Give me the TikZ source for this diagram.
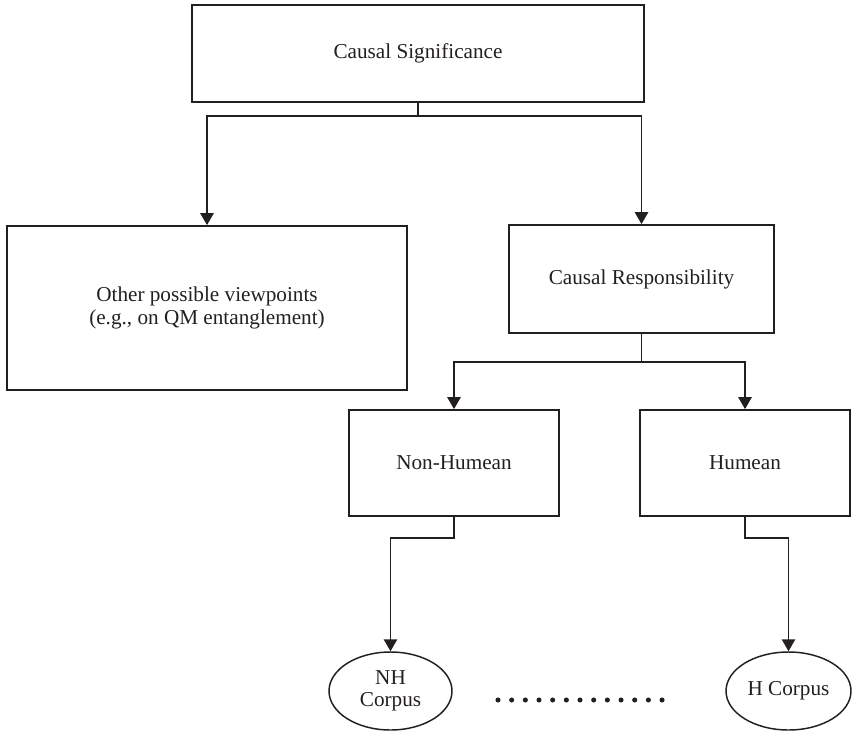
\documentclass[tikz,border=0pt]{standalone}
\usepackage{fontspec}
\setmainfont{Liberation Serif}
\usetikzlibrary{arrows.meta,shapes.geometric}
\definecolor{ink}{HTML}{231F20}
\tikzset{
  box/.style={draw=ink, line width=1.3pt, rectangle, inner sep=0pt, text=ink,
    font=\fontsize{15.9}{17.6}\selectfont, align=center},
  corpus/.style={draw=ink, line width=1.1pt, ellipse, inner sep=0pt, text=ink,
    font=\fontsize{15.9}{16.5}\selectfont, align=center},
  arr/.style={draw=ink, line width=1.3pt, -{Triangle[width=10pt,length=9pt]}},
  link/.style={draw=ink, line width=1.3pt}
}
\begin{document}
\begin{tikzpicture}[x=0.75pt,y=-0.75pt]
  \useasboundingbox (0,0) rectangle (853,732);

  % boxes
  \node[box, minimum width=339pt, minimum height=72.75pt] (sig) at (418,53.5) {Causal Significance};
  \node[box, minimum width=300pt, minimum height=123pt] (other) at (207,308)
    {Other possible viewpoints\\(e.g., on QM entanglement)};
  \node[box, minimum width=198.75pt, minimum height=81pt] (resp) at (641.5,279) {Causal Responsibility};
  \node[box, minimum width=157.5pt, minimum height=79.5pt] (nonh) at (454,463) {Non-Humean};
  \node[box, minimum width=157.5pt, minimum height=79.5pt] (hum) at (745,463) {Humean};

  % corpora
  \node[corpus, minimum width=92.25pt, minimum height=58.5pt] (nhc) at (390.5,691) {NH\\Corpus};
  \node[corpus, minimum width=93.75pt, minimum height=58.5pt] (hc) at (788.5,691) {H Corpus};

  % branching connectors
  \coordinate (j1) at (418,116);
  \coordinate (j2) at (641.5,362);
  \draw[link] (sig.south) -- (j1);
  \draw[arr] (j1) -| (other.north);
  \draw[arr] (j1) -| (resp.north);
  \draw[link] (resp.south) -- (j2);
  \draw[arr] (j2) -| (nonh.north);
  \draw[arr] (j2) -| (hum.north);
  \draw[arr] (nonh.south) -- ++(0,21) -| (nhc.north);
  \draw[arr] (hum.south) -- ++(0,21) -| (hc.north);

  % ellipsis between the corpora
  \foreach \i in {0,...,12}
    \fill[ink] (498+\i*13.67,700) circle[radius=1.9pt];
\end{tikzpicture}
\end{document}
